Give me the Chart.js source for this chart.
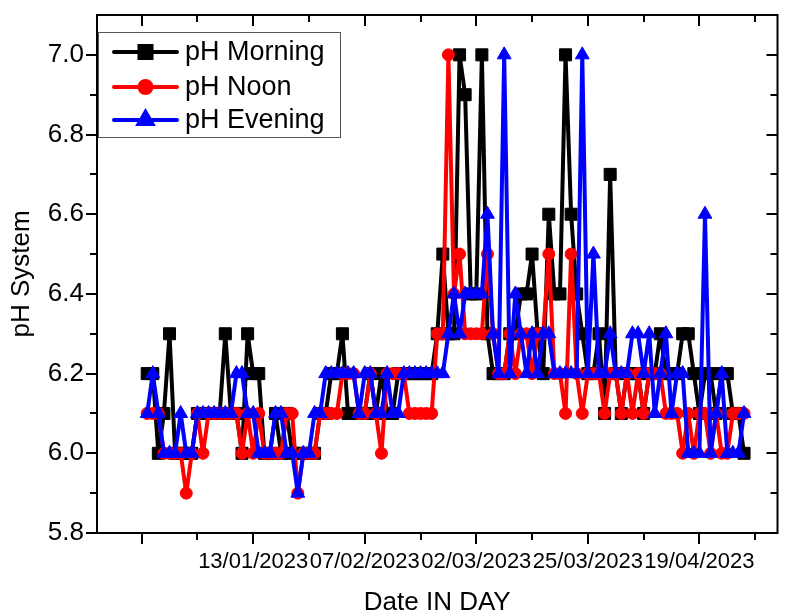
<!DOCTYPE html>
<html>
<head>
<meta charset="utf-8">
<script src="https://cdn.jsdelivr.net/npm/chart.js@4.4.0/dist/chart.umd.min.js"></script>
<style>
  body { margin: 0; background: #fff; }
  #wrap { width: 787px; height: 616px; }
</style>
</head>
<body>
<div id="wrap"><canvas id="ph_chart" width="787" height="616"></canvas></div>
<script>
// one value per sheet row (rows 1..108), x axis is the row number
const phMorning = [
  6.2, 6.2, 6.0, 6.1, 6.3, 6.0, 6.0, 6.0, 6.0, 6.1,
  6.1, 6.1, 6.1, 6.1, 6.3, 6.1, 6.1, 6.0, 6.3, 6.2,
  6.2, 6.0, 6.0, 6.1, 6.0, 6.1, 6.0, 6.0, 6.0, 6.0,
  6.0, 6.1, 6.1, 6.2, 6.2, 6.3, 6.1, 6.1, 6.1, 6.1,
  6.2, 6.1, 6.2, 6.1, 6.1, 6.2, 6.2, 6.2, 6.2, 6.2,
  6.2, 6.2, 6.3, 6.5, 6.3, 6.3, 7.0, 6.9, 6.4, 6.4,
  7.0, 6.3, 6.2, 6.2, 6.2, 6.3, 6.3, 6.4, 6.4, 6.5,
  6.3, 6.2, 6.6, 6.4, 6.4, 7.0, 6.6, 6.4, 6.3, 6.2,
  6.2, 6.3, 6.1, 6.7, 6.2, 6.1, 6.2, 6.2, 6.2, 6.1,
  6.2, 6.2, 6.3, 6.2, 6.2, 6.2, 6.3, 6.3, 6.2, 6.1,
  6.2, 6.2, 6.1, 6.2, 6.2, 6.1, 6.1, 6.0
];
const phNoon = [
  6.1, 6.1, 6.1, 6.0, 6.0, 6.0, 6.0, 5.9, 6.0, 6.1,
  6.0, 6.1, 6.1, 6.1, 6.1, 6.1, 6.1, 6.0, 6.1, 6.0,
  6.1, 6.0, 6.0, 6.0, 6.0, 6.1, 6.1, 5.9, 6.0, 6.0,
  6.0, 6.1, 6.1, 6.1, 6.1, 6.2, 6.2, 6.2, 6.1, 6.1,
  6.2, 6.1, 6.0, 6.2, 6.2, 6.2, 6.2, 6.1, 6.1, 6.1,
  6.1, 6.1, 6.3, 6.3, 7.0, 6.4, 6.5, 6.3, 6.3, 6.3,
  6.3, 6.5, 6.3, 6.2, 6.2, 6.3, 6.2, 6.3, 6.3, 6.2,
  6.3, 6.3, 6.5, 6.2, 6.2, 6.1, 6.5, 6.2, 6.1, 6.2,
  6.2, 6.2, 6.1, 6.2, 6.2, 6.1, 6.2, 6.1, 6.2, 6.1,
  6.2, 6.2, 6.2, 6.1, 6.1, 6.1, 6.0, 6.1, 6.0, 6.1,
  6.1, 6.0, 6.1, 6.0, 6.0, 6.1, 6.1, 6.1
];
const phEvening = [
  6.1, 6.2, 6.1, 6.0, 6.0, 6.0, 6.1, 6.0, 6.0, 6.1,
  6.1, 6.1, 6.1, 6.1, 6.1, 6.1, 6.2, 6.2, 6.1, 6.1,
  6.0, 6.0, 6.0, 6.1, 6.1, 6.0, 6.0, 5.9, 6.0, 6.0,
  6.1, 6.1, 6.2, 6.2, 6.2, 6.2, 6.2, 6.2, 6.1, 6.2,
  6.2, 6.1, 6.1, 6.2, 6.1, 6.1, 6.2, 6.2, 6.2, 6.2,
  6.2, 6.2, 6.2, 6.2, 6.3, 6.4, 6.3, 6.4, 6.4, 6.4,
  6.4, 6.6, 6.3, 6.2, 7.0, 6.2, 6.4, 6.3, 6.2, 6.3,
  6.2, 6.3, 6.3, 6.2, 6.2, 6.2, 6.2, 6.2, 7.0, 6.2,
  6.5, 6.2, 6.2, 6.3, 6.2, 6.2, 6.2, 6.3, 6.3, 6.2,
  6.3, 6.1, 6.2, 6.3, 6.1, 6.2, 6.2, 6.0, 6.0, 6.0,
  6.6, 6.0, 6.1, 6.2, 6.0, 6.0, 6.0, 6.1
];

// labelled rows on the x axis (row 0 has no date)
const tickRows = [0, 20, 40, 60, 80, 100];
const tickDates = ['', '13/01/2023', '07/02/2023', '02/03/2023', '25/03/2023', '19/04/2023'];
const yTickValues = [5.8, 6.0, 6.2, 6.4, 6.6, 6.8, 7.0];

function toPoints(arr) {
  var pts = [];
  for (let i = 0; i < arr.length; i++) {
    pts.push({x: i + 1, y: arr[i]});
  }
  return pts;
}

const FONT = "'Liberation Sans', Arial, sans-serif";

// box round the plot, ticks on all four sides (inward on top/right)
const frameTicks = {
  id: 'frameTicks',
  afterDraw(chart) {
    const ctx = chart.ctx;
    const a = chart.chartArea;
    const x = chart.scales.x, y = chart.scales.y;
    ctx.save();
    ctx.strokeStyle = '#000';
    ctx.lineWidth = 2;
    ctx.strokeRect(a.left, a.top, a.right - a.left, a.bottom - a.top);
    ctx.beginPath();
    for (let v = 0; v <= 110; v += 10) {
      const px = Math.round(x.getPixelForValue(v));
      const len = v % 20 === 0 ? 11 : 7;
      ctx.moveTo(px, a.bottom); ctx.lineTo(px, a.bottom + len);
      ctx.moveTo(px, a.top); ctx.lineTo(px, a.top + len);
    }
    for (let k = 0; k <= 12; k++) {
      const v = 5.8 + k * 0.1;
      const py = Math.round(y.getPixelForValue(v));
      const len = k % 2 === 0 ? 11 : 7;
      ctx.moveTo(a.left, py); ctx.lineTo(a.left - len, py);
      ctx.moveTo(a.right, py); ctx.lineTo(a.right - len, py);
    }
    ctx.stroke();
    ctx.restore();
  }
};

// legend box drawn inside the plot, top left
const boxLegend = {
  id: 'boxLegend',
  afterDraw(chart) {
    const ctx = chart.ctx;
    const sets = chart.data.datasets;
    const bx = 98, by = 32, bw = 242, bh = 105;
    ctx.save();
    ctx.fillStyle = '#fff';
    ctx.fillRect(bx, by, bw, bh);
    ctx.strokeStyle = '#555';
    ctx.lineWidth = 1;
    ctx.strokeRect(bx + 0.5, by + 0.5, bw, bh);
    const rowY = [52, 87, 120];
    for (let i = 0; i < sets.length; i++) {
      const ds = sets[i];
      const yy = rowY[i];
      ctx.strokeStyle = ds.borderColor;
      ctx.lineWidth = 4;
      ctx.lineCap = 'round';
      ctx.beginPath();
      ctx.moveTo(114, yy); ctx.lineTo(177, yy);
      ctx.stroke();
      Chart.helpers.drawPoint(ctx, {
        pointStyle: ds.pointStyle, radius: ds.pointRadius, borderWidth: 1, rotation: 0
      }, 145.5, yy);
      ctx.fillStyle = ds.backgroundColor;
      ctx.fill();
      ctx.fillStyle = '#000';
      ctx.font = '27px ' + FONT;
      ctx.textBaseline = 'middle';
      ctx.fillText(ds.label, 185, yy + 1);
    }
    ctx.restore();
  }
};

const ctx = document.getElementById('ph_chart');
const phChart = new Chart(ctx, {
  type: 'line',
  data: {
    datasets: [
      {
        label: 'pH Morning',
        data: toPoints(phMorning),
        borderColor: '#000000',
        backgroundColor: '#000000',
        pointStyle: 'rect',
        pointRadius: 8.5,
        order: 3
      },
      {
        label: 'pH Noon',
        data: toPoints(phNoon),
        borderColor: '#ff0000',
        backgroundColor: '#ff0000',
        pointStyle: 'circle',
        pointRadius: 6,
        order: 2
      },
      {
        label: 'pH Evening',
        data: toPoints(phEvening),
        borderColor: '#0000ff',
        backgroundColor: '#0000ff',
        pointStyle: 'triangle',
        pointRadius: 8,
        order: 1
      }
    ]
  },
  options: {
    responsive: false,
    animation: false,
    devicePixelRatio: 1,
    layout: { padding: { top: 15, right: 7, left: 0, bottom: 0 } },
    elements: {
      line: { borderWidth: 4, tension: 0, borderJoinStyle: 'round', borderCapStyle: 'round' },
      point: { borderWidth: 1, hoverRadius: 6 }
    },
    plugins: {
      legend: { display: false },
      tooltip: { enabled: false }
    },
    scales: {
      x: {
        type: 'linear',
        min: -8,
        max: 114,
        grid: { display: false, drawTicks: false },
        border: { display: false },
        afterBuildTicks: function(scale) {
          scale.ticks = tickRows.map(function(v) { return {value: v}; });
        },
        afterFit: function(scale) {
          scale.height = 83;
          scale.paddingLeft = 0;
          scale.paddingRight = 0;
        },
        ticks: {
          autoSkip: false,
          maxRotation: 0,
          padding: 16,
          color: '#000',
          font: { family: FONT, size: 22 },
          callback: function(value) {
            const k = tickRows.indexOf(value);
            return k >= 0 ? tickDates[k] : '';
          }
        },
        title: {
          display: true,
          text: 'Date IN DAY',
          color: '#000',
          font: { family: FONT, size: 26, lineHeight: 1 },
          padding: { top: 0, bottom: 0 }
        }
      },
      y: {
        min: 5.8,
        max: 7.1,
        grid: { display: false, drawTicks: false },
        border: { display: false },
        afterBuildTicks: function(scale) {
          scale.ticks = yTickValues.map(function(v) { return {value: v}; });
        },
        afterFit: function(scale) {
          scale.width = 97;
          scale.paddingTop = 0;
          scale.paddingBottom = 0;
        },
        ticks: {
          padding: 13,
          color: '#000',
          font: { family: FONT, size: 26 },
          callback: function(value) { return value.toFixed(1); }
        },
        title: {
          display: true,
          text: 'pH System',
          color: '#000',
          font: { family: FONT, size: 26, lineHeight: 1 },
          padding: { top: 9, bottom: 0 }
        }
      }
    }
  },
  plugins: [frameTicks, boxLegend]
});
</script>
</body>
</html>
